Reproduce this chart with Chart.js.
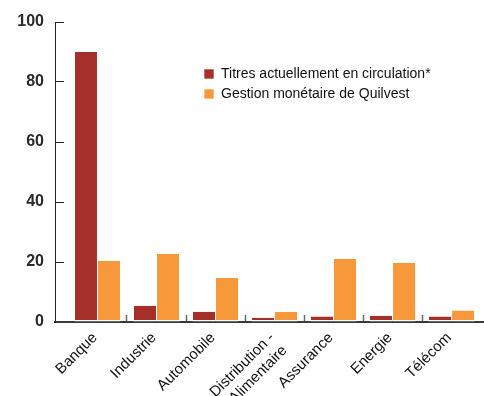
<!DOCTYPE html>
<html>
<head>
<meta charset="utf-8">
<script src="https://cdn.jsdelivr.net/npm/chart.js@4/dist/chart.umd.min.js"></script>
<style>
  html, body { margin: 0; padding: 0; background: #ffffff; }
  #wrap { width: 484px; height: 396px; position: relative; }
</style>
</head>
<body>
<div id="wrap"><canvas id="c" width="484" height="396"></canvas></div>
<script>
const categories = ['Banque', 'Industrie', 'Automobile', ['Distribution -', 'Alimentaire'], 'Assurance', 'Energie', 'Télécom'];
const seriesNames = ['Titres actuellement en circulation*', 'Gestion monétaire de Quilvest'];
const titresValues = [90, 5.4, 3.4, 1.4, 1.8, 2.1, 1.8];
const gestionValues = [20.3, 22.7, 14.7, 3.4, 21, 19.7, 3.8];
const yTicks = [0, 20, 40, 60, 80, 100];

const sans = '"Liberation Sans", Arial, Helvetica, sans-serif';

const toPoints = (vals) => vals.map((v, i) => ({ x: i, y: v }));

const legendPlacer = {
  id: 'legendPlacer',
  afterUpdate(chart) {
    const lg = chart.legend;
    if (!lg) return;
    lg.left = 198; lg.top = 61;
    lg.width = 280; lg.height = 60;
    lg.right = lg.left + lg.width; lg.bottom = lg.top + lg.height;
  }
};

new Chart(document.getElementById('c'), {
  type: 'bar',
  data: {
    datasets: [
      { label: seriesNames[0], data: toPoints(titresValues), backgroundColor: '#a5302a',
        borderColor: '#ffffff', borderWidth: { top: 0, left: 0.5, right: 0.5, bottom: 1.5 }, borderSkipped: false },
      { label: seriesNames[1], data: toPoints(gestionValues), backgroundColor: '#f7993b',
        borderColor: '#ffffff', borderWidth: { top: 0, left: 0.5, right: 0.5, bottom: 1.5 }, borderSkipped: false }
    ]
  },
  options: {
    responsive: false,
    animation: false,
    events: [],
    categoryPercentage: 0.78,
    barPercentage: 1,
    layout: { padding: { top: 22, right: 0, bottom: 0, left: 0 } },
    scales: {
      x: {
        type: 'linear',
        min: -0.72,
        max: 6.55,
        offset: false,
        z: 1,
        afterBuildTicks(scale) { scale.ticks = categories.map((_, i) => ({ value: i - 0.5 })); },
        afterFit(scale) { scale.height = 74; scale.paddingLeft = 0; scale.paddingRight = 0; },
        ticks: {
          autoSkip: false,
          minRotation: 45, maxRotation: 45,
          labelOffset: 27,
          padding: 14,
          color: '#111',
          font: { family: sans, size: 15 },
          callback: (v, i) => categories[i]
        },
        grid: {
          offset: false,
          drawOnChartArea: false,
          tickLength: -7,
          tickWidth: 1.5,
          tickColor: (ctx) => ctx.index === 0 ? 'rgba(0,0,0,0)' : '#6b6b6b'
        },
        border: { display: true, color: '#3a3a3a', width: 2 }
      },
      y: {
        min: 0, max: 100,
        afterBuildTicks(scale) { scale.ticks = yTicks.map(v => ({ value: v })); },
        afterFit(scale) { scale.width = 55; scale.paddingTop = 0; scale.paddingBottom = 0; },
        ticks: {
          padding: 20,
          color: '#2a2a2a',
          font: { family: sans, size: 16, weight: 'bold' }
        },
        grid: {
          drawOnChartArea: false,
          tickLength: -9,
          tickWidth: 1,
          tickColor: '#222'
        },
        border: { display: true, color: '#222', width: 1 }
      }
    },
    plugins: {
      tooltip: { enabled: false },
      legend: {
        position: 'chartArea',
        align: 'start',
        labels: {
          boxWidth: 10, boxHeight: 10, padding: 6,
          color: '#111',
          font: { family: sans, size: 14 }
        }
      }
    }
  },
  plugins: [legendPlacer]
});
</script>
</body>
</html>
